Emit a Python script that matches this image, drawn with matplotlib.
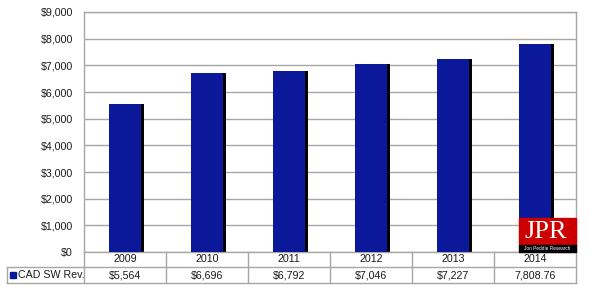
import matplotlib.pyplot as plt
from matplotlib.lines import Line2D
from matplotlib.patches import Rectangle

years = ['2009', '2010', '2011', '2012', '2013', '2014']
revenue = [5564, 6696, 6792, 7046, 7227, 7808.76]
value_labels = ['$5,564', '$6,696', '$6,792', '$7,046', '$7,227', '7,808.76']
series_name = 'CAD SW Rev.'
y_ticks = [0, 1000, 2000, 3000, 4000, 5000, 6000, 7000, 8000, 9000]

plt.rcParams['font.family'] = ['Liberation Sans', 'DejaVu Sans']

W, H = 590, 295
fig = plt.figure(figsize=(W / 100, H / 100), dpi=100)
fig.patch.set_facecolor('white')

# pixel helpers (origin top-left)
def fx(px):
    return px / W

def fy(py):
    return 1 - py / H

left, right, top, bottom = 84, 576, 12, 252
ax = fig.add_axes([fx(left), fy(bottom), fx(right) - fx(left), fy(top) - fy(bottom)])

bar_color = '#0a1899'
grid_color = '#a6a6a6'
text_color = '#1a1a1a'
fs = 7.7
xs = list(range(len(years)))
ax.bar([x + 0.03 for x in xs], revenue, width=0.4, color='black', zorder=2)
ax.bar(xs, revenue, width=0.4, color=bar_color, zorder=3)

ax.set_xlim(-0.5, len(years) - 0.5)
ax.set_ylim(0, 9000)
ax.set_yticks(y_ticks)
ax.set_yticklabels(['${:,}'.format(v) for v in y_ticks], fontsize=fs, color=text_color)
ax.set_xticks([])
ax.tick_params(axis='y', length=0, pad=8)
ax.yaxis.grid(True, color=grid_color, linewidth=1)
ax.set_axisbelow(True)
for s in ax.spines.values():
    s.set_color(grid_color)
    s.set_linewidth(1)

# data table below the plot
row1_top, row1_bot, row2_bot = 252, 267, 283
table_left = 7
cell_w = (right - left) / len(years)

def hline(x0, x1, y):
    fig.add_artist(Line2D([fx(x0), fx(x1)], [fy(y), fy(y)], color=grid_color, linewidth=1))

def vline(x, y0, y1):
    fig.add_artist(Line2D([fx(x), fx(x)], [fy(y0), fy(y1)], color=grid_color, linewidth=1))

hline(table_left, right, row1_bot)
hline(table_left, right, row2_bot)
vline(table_left, row1_bot, row2_bot)
for i in range(len(years) + 1):
    vline(left + i * cell_w, row1_top, row2_bot)

for i, (yr, lab) in enumerate(zip(years, value_labels)):
    cx = left + (i + 0.5) * cell_w
    fig.text(fx(cx), fy((row1_top + row1_bot) / 2), yr, ha='center', va='center',
             fontsize=fs, color=text_color)
    fig.text(fx(cx), fy((row1_bot + row2_bot) / 2), lab, ha='center', va='center',
             fontsize=fs, color=text_color)

fig.add_artist(Rectangle((fx(10), fy(278)), fx(6), fy(272) - fy(278), color=bar_color))
fig.text(fx(18), fy((row1_bot + row2_bot) / 2), series_name, ha='left', va='center',
         fontsize=fs, color=text_color)

# JPR logo
fig.add_artist(Rectangle((fx(519), fy(245)), fx(576) - fx(519), fy(218) - fy(245),
                         color='#cc0000', zorder=5))
fig.add_artist(Rectangle((fx(519), fy(252)), fx(576) - fx(519), fy(245) - fy(252),
                         color='black', zorder=5))
fig.text(fx(546), fy(232), 'JPR', ha='center', va='center', fontsize=19,
         color='white', family='Liberation Serif', zorder=6)
fig.text(fx(547.5), fy(248.5), 'Jon Peddie Research', ha='center', va='center',
         fontsize=3.4, color='white', zorder=6)

fig.savefig('out.png', dpi=100)
